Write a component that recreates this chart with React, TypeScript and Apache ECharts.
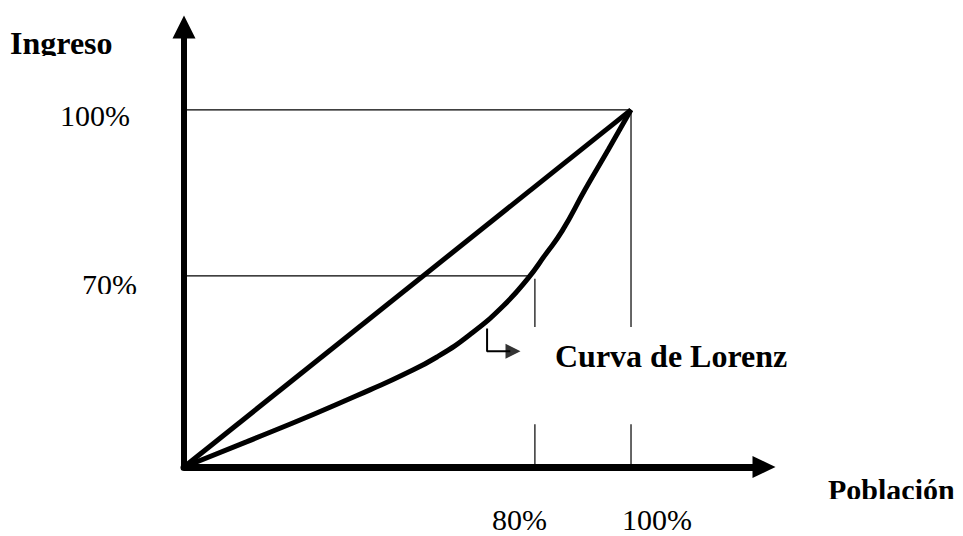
import React, { useEffect, useRef } from "react";
import * as echarts from "echarts";

// Lorenz curve (data units: 100 = full population / full income on the drawn scale)
const lorenzX = [0, 14.1, 28.9, 41.6, 49.0, 56.6, 64.0, 71.4, 77.0, 80.8, 84.6, 89.7, 94.9, 100];
const lorenzY = [0, 7.1, 14.7, 21.6, 25.8, 30.8, 37.1, 45.1, 52.9, 59.4, 66.1, 77.6, 88.8, 100];
// line of perfect equality
const equalityX = [0, 100];
const equalityY = [0, 100];
// guide positions
const yGuideValues = [100, 53.5]; // 100%, 70%
const yGuideEnds = [100, 77.2];
const xGuideValues = [78.5, 100]; // 80%, 100%
const xGuideTops = [52.7, 100];
const gapBounds = [12.0, 39.2]; // gap under the label
// small pointer arrow
const pointerX = [67.8, 67.8, 73.0];
const pointerY = [38.8, 32.4, 32.4];
const tipX = [73.6];
const tipY = [32.4];
// texts
const yTickLabels = ["100%", "70%"];
const xTickLabels = ["80%", "100%"];
const yAxisTitle = "Ingreso";
const xAxisTitle = "Población";
const curveLabel = "Curva de Lorenz";

const X_MAX = 129.75;
const Y_MAX = 123.2;

const zip = (a: number[], b: number[]) => a.map((v, i) => [v, b[i]]);

export default function App() {
  const ref = useRef<HTMLDivElement>(null);
  useEffect(() => {
    if (!ref.current) return;
    const chart = echarts.init(ref.current, undefined, { renderer: "svg" });
    const font = "'Liberation Serif', 'Times New Roman', serif";
    const thin = { color: "#000", width: 1.2 };
    const guideSeries: any[] = [];
    yGuideValues.forEach((v, i) => {
      guideSeries.push({
        type: "line",
        data: [[0, v], [yGuideEnds[i], v]],
        symbol: "none",
        lineStyle: thin,
        z: 1,
      });
    });
    xGuideValues.forEach((v, i) => {
      guideSeries.push({
        type: "line",
        data: [[v, xGuideTops[i]], [v, gapBounds[1]]],
        symbol: "none",
        lineStyle: thin,
        z: 1,
      });
      guideSeries.push({
        type: "line",
        data: [[v, gapBounds[0]], [v, 0]],
        symbol: "none",
        lineStyle: thin,
        z: 1,
      });
    });

    const txt = (
      text: string,
      x: number,
      y: number,
      bold: boolean,
      size = 30
    ) => ({
      type: "text",
      x,
      y,
      z: 10,
      style: {
        text,
        fill: "#000",
        font: `${bold ? "bold " : ""}${size}px ${font}`,
        textVerticalAlign: "middle",
        verticalAlign: "middle",
        textAlign: "left",
        align: "left",
      },
    });
    const mask = (x: number, y: number, width: number, height: number) => ({
      type: "rect",
      z: 20,
      shape: { x, y, width, height },
      style: { fill: "#fff" },
    });

    chart.setOption({
      animation: false,
      backgroundColor: "#fff",
      grid: { left: 184, top: 27, right: 199, bottom: 69 },
      xAxis: {
        type: "value",
        min: 0,
        max: X_MAX,
        offset: 3,
        axisLine: {
          show: true,
          symbol: ["none", "triangle"],
          symbolSize: [22, 23],
          lineStyle: { color: "#000", width: 7 },
        },
        axisTick: { show: false },
        axisLabel: { show: false },
        splitLine: { show: false },
      },
      yAxis: {
        type: "value",
        min: 0,
        max: Y_MAX,
        offset: 1,
        axisLine: {
          show: true,
          symbol: ["none", "triangle"],
          symbolSize: [23, 23],
          lineStyle: { color: "#000", width: 6, cap: "square" },
        },
        axisTick: { show: false },
        axisLabel: { show: false },
        splitLine: { show: false },
      },
      series: [
        ...guideSeries,
        {
          type: "line",
          data: zip(equalityX, equalityY),
          symbol: "none",
          lineStyle: { color: "#000", width: 5 },
          z: 3,
        },
        {
          type: "line",
          data: zip(lorenzX, lorenzY),
          smooth: 0.5,
          symbol: "none",
          lineStyle: { color: "#000", width: 5 },
          z: 3,
        },
        {
          type: "line",
          data: zip(pointerX, pointerY),
          symbol: "none",
          lineStyle: { color: "#000", width: 2 },
          z: 3,
        },
        {
          type: "scatter",
          data: zip(tipX, tipY),
          symbol: "triangle",
          symbolSize: [15, 15],
          symbolRotate: -90,
          itemStyle: { color: "#000" },
          z: 4,
        },
      ],
      graphic: [
        txt(yAxisTitle, 10, 43, true, 32),
        txt(yTickLabels[0], 60, 115, false),
        txt(yTickLabels[1], 82, 284, false),
        txt(curveLabel, 555, 356, true, 32),
        txt(xAxisTitle, 828, 489, true),
        txt(xTickLabels[0], 492, 519, false),
        txt(xTickLabels[1], 622, 519, false),
        mask(0, 56, 140, 10),
        mask(70, 294, 80, 8),
        mask(815, 499, 148, 14),
      ],
    });
    return () => chart.dispose();
  }, []);
  return (
    <div
      ref={ref}
      style={{ position: "fixed", left: 0, top: 0, width: 963, height: 536, background: "#fff" }}
    />
  );
}
